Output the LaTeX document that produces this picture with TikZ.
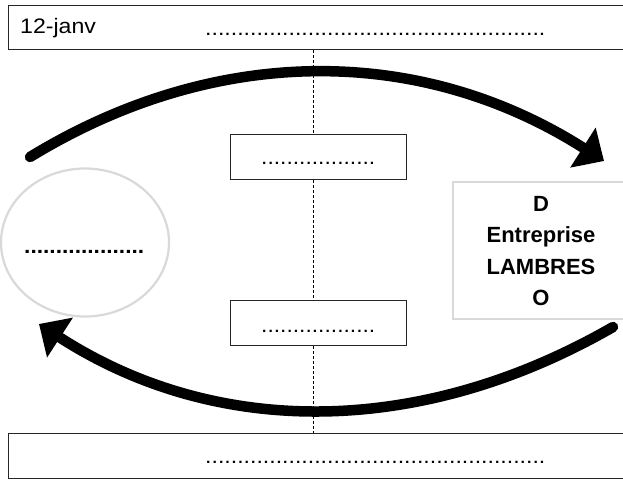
\documentclass[tikz,border=0pt]{standalone}
\usepackage{fontspec}
\setmainfont{Liberation Sans}
\usetikzlibrary{arrows.meta,shapes.geometric}

% text set slightly wide, as in the chart this comes from
\newcommand\widetext[2][1.1]{\scalebox{#1}[1]{#2}}
% a dotted blank of a given width
\newcommand\blankrow[2]{\resizebox{#1}{\height}{#2}}

\begin{document}
\begin{tikzpicture}[x=1pt,y=-1pt,
  frame/.style={draw=black!85, line width=1.3pt, fill=white, inner sep=0pt},
  softframe/.style={draw=black!15, line width=2.2pt, fill=white, inner sep=0pt},
  guide/.style={draw=black, line width=0.9pt, dash pattern=on 3pt off 2pt},
  flow/.style={line width=10.5pt, line cap=round, -{Triangle[length=25pt,width=46pt]}},
  txt/.style={font=\fontsize{21}{24}\selectfont, inner sep=0pt},
  boldtxt/.style={font=\bfseries\fontsize{22}{31.5}\selectfont, inner sep=0pt, align=center},
]
\useasboundingbox (0,0) rectangle (623,479);
\clip (0,0) rectangle (623,479);

% header and footer bands
\node[frame, anchor=north west, minimum width=640pt, minimum height=44pt] (head) at (8,5) {};
\node[frame, anchor=north west, minimum width=640pt, minimum height=45pt] (foot) at (8,433) {};

% central axis
\coordinate (axis) at (313,0);

% the two boxes on the axis
\node[frame, anchor=north west, minimum width=176pt, minimum height=45pt] (gapA) at (230,134) {};
\node[frame, anchor=north west, minimum width=176pt, minimum height=45pt] (gapB) at (230,300) {};

% dashed axis between the boxes
\draw[guide] (axis |- head.south) -- (axis |- gapA.north);
\draw[guide] (axis |- gapA.south) -- (axis |- gapB.north);
\draw[guide] (axis |- gapB.south) -- (axis |- foot.north);

% the two parties
\node[softframe, ellipse, minimum width=168pt, minimum height=148pt] (client) at (85,242.5) {};
\node[softframe, anchor=north west, minimum width=178pt, minimum height=137pt] (firm) at (452,181) {};

% texts
\node[txt, anchor=base west] (date) at (20,33) {\widetext{12-janv}};
\node[txt, anchor=base west] (headdots) at (205,35) {\blankrow{340pt}{.....................................................}};
\node[txt, anchor=base west] (footdots) at (205,463) {\blankrow{340pt}{.....................................................}};
\node[txt, anchor=base west] (gapAdots) at (261,164) {\blankrow{114pt}{..................}};
\node[txt, anchor=base west] (gapBdots) at (261,332) {\blankrow{114pt}{..................}};
\node[txt, font=\bfseries\fontsize{21}{24}\selectfont, anchor=base west] (clientdots) at (24,253) {\blankrow{120pt}{...................}};
\node[boldtxt] (firmname) at (541,251) {D\\Entreprise\\LAMBRES\\O};

% exchanges
\coordinate (outStart) at (30,157);
\coordinate (outEnd) at (604,161);
\coordinate (backStart) at (613,327);
\coordinate (backEnd) at (39,324);
\draw[flow] (outStart) .. controls (215,44) and (420,44) .. (outEnd);
\draw[flow] (backStart) .. controls (420,438) and (215,438) .. (backEnd);
\end{tikzpicture}
\end{document}
